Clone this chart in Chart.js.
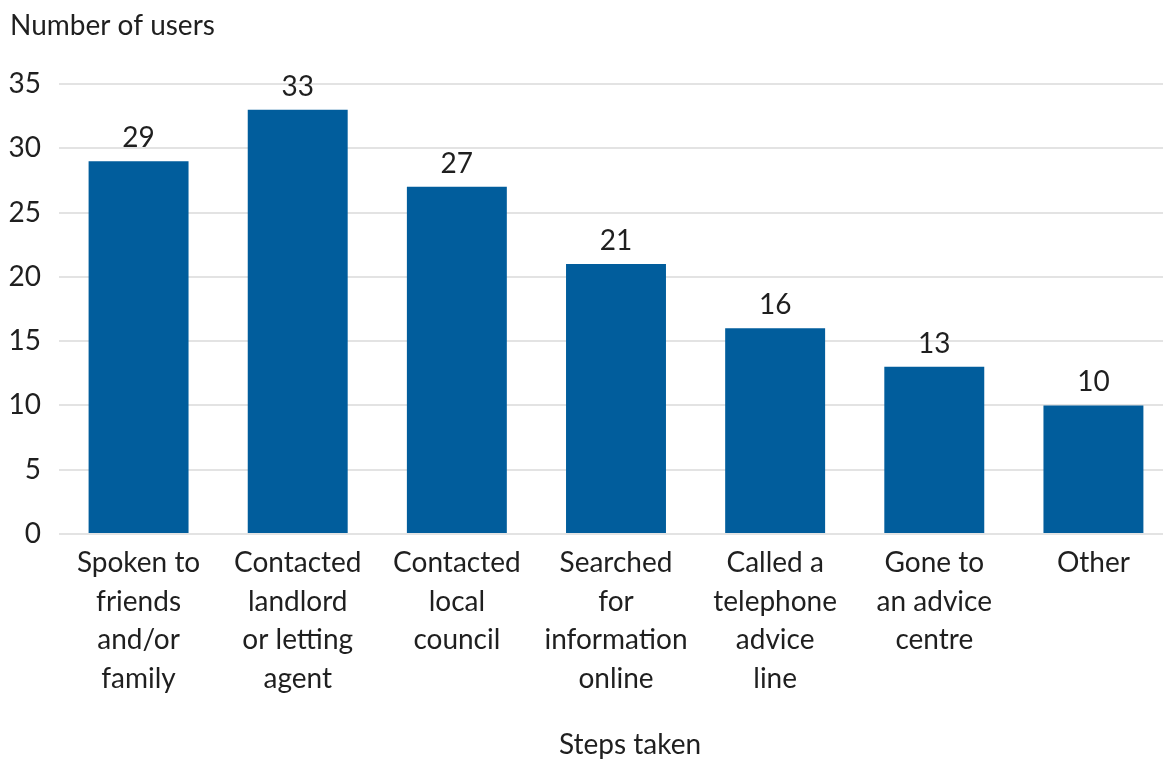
<!DOCTYPE html>
<html>
<head>
<meta charset="utf-8">
<script src="https://cdn.jsdelivr.net/npm/chart.js@4/dist/chart.umd.min.js"></script>
<style>
  html, body { margin: 0; padding: 0; background: #ffffff; overflow: hidden; }
  #wrap { position: relative; width: 1163px; height: 760px; overflow: hidden; }
  #box { position: absolute; left: 0; top: 0; width: 1173px; height: 760px; }
</style>
</head>
<body>
<div id="wrap"><div id="box"><canvas id="chart"></canvas></div></div>
<script>
// Steps taken by users, count per step
const categories = [
  ["Spoken to", "friends", "and/or", "family"],
  ["Contacted", "landlord", "or letting", "agent"],
  ["Contacted", "local", "council"],
  ["Searched", "for", "information", "online"],
  ["Called a", "telephone", "advice", "line"],
  ["Gone to", "an advice", "centre"],
  ["Other"]
];
const users = [29, 33, 27, 21, 16, 13, 10];
const yTicks = [0, 5, 10, 15, 20, 25, 30, 35];

const FONT = "Lato, 'Open Sans', sans-serif";
const TEXT = "#1f1f1f";
const BAR = "#015d9c";

// Value labels above each bar, positioned from the bar elements
const valueLabels = {
  id: "valueLabels",
  afterDatasetsDraw(chart) {
    const ctx = chart.ctx;
    const meta = chart.getDatasetMeta(0);
    ctx.save();
    ctx.font = "28px " + FONT;
    ctx.fillStyle = TEXT;
    ctx.textAlign = "center";
    ctx.textBaseline = "alphabetic";
    meta.data.forEach((bar, i) => {
      ctx.fillText(String(users[i]), bar.x, bar.y - 14);
    });
    ctx.restore();
  }
};

// Axis captions: y caption top-left, x caption below the category labels
const captions = {
  id: "captions",
  afterDraw(chart) {
    const ctx = chart.ctx;
    const area = chart.chartArea;
    ctx.save();
    ctx.font = "28px " + FONT;
    ctx.fillStyle = TEXT;
    ctx.textBaseline = "middle";
    ctx.textAlign = "left";
    ctx.fillText("Number of users", 10, 26);
    ctx.textAlign = "center";
    ctx.fillText("Steps taken", (area.left + area.right) / 2 + 14, 745);
    ctx.restore();
  }
};

new Chart(document.getElementById("chart"), {
  type: "bar",
  data: {
    labels: categories,
    datasets: [{
      data: users,
      backgroundColor: BAR,
      borderWidth: 0,
      barPercentage: 1,
      categoryPercentage: 0.628
    }]
  },
  options: {
    responsive: true,
    maintainAspectRatio: false,
    animation: false,
    devicePixelRatio: 1,
    layout: { padding: { top: 84, right: 0, left: 0, bottom: 0 } },
    plugins: {
      legend: { display: false },
      tooltip: { enabled: false },
      title: { display: false }
    },
    scales: {
      x: {
        grid: { display: false, drawTicks: false },
        border: { display: false },
        ticks: {
          color: TEXT,
          font: { family: FONT, size: 28, lineHeight: 1.375 },
          padding: 10,
          maxRotation: 0,
          autoSkip: false
        },
        afterFit(scale) { scale.height = 226; }
      },
      y: {
        min: 0,
        max: 35,
        afterBuildTicks(scale) { scale.ticks = yTicks.map(v => ({ value: v })); },
        grid: { color: "#e3e3e3", lineWidth: 2, drawTicks: false },
        border: { display: false },
        ticks: {
          color: TEXT,
          font: { family: FONT, size: 28 },
          padding: 18
        },
        afterFit(scale) { scale.width = 59; }
      }
    }
  },
  plugins: [valueLabels, captions]
});
</script>
</body>
</html>
